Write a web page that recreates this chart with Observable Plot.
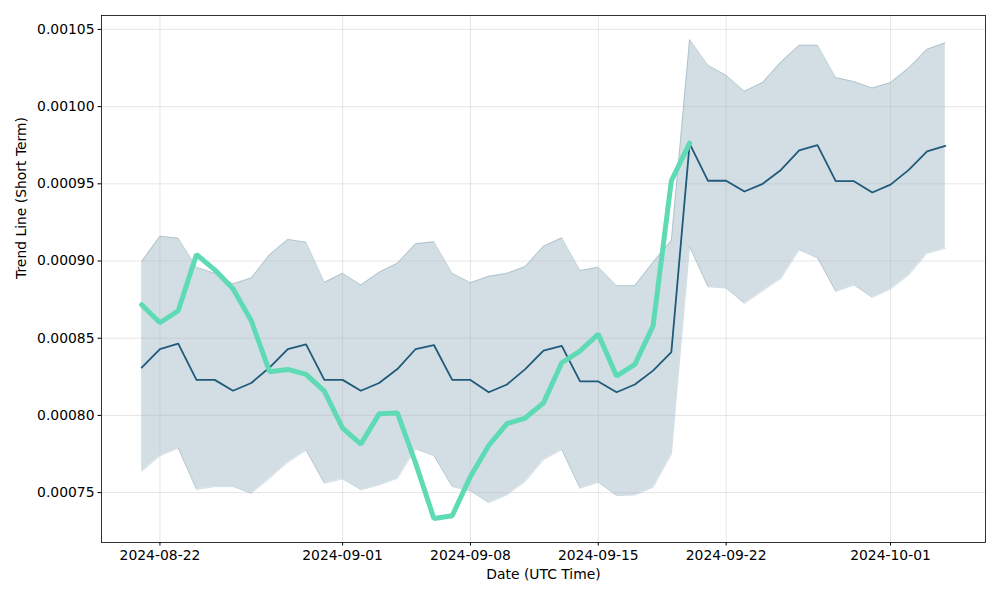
<!DOCTYPE html>
<html>
<head>
<meta charset="utf-8">
<script src="https://cdn.jsdelivr.net/npm/d3@7"></script>
<script src="https://cdn.jsdelivr.net/npm/@observablehq/plot@0.6"></script>
<style>
  html, body { margin: 0; padding: 0; background: #fff; }
  #chart { width: 1000px; height: 600px; }
  svg { font-family: "DejaVu Sans", sans-serif; }
</style>
</head>
<body>
<div id="chart"></div>
<script>
// Dates: daily from 2024-08-21 to 2024-10-04
const startDate = "2024-08-21";
const dayCount = 45;

// Trend line (mean forecast)
const trend = [
  0.000831, 0.000843, 0.0008465, 0.000823, 0.000823, 0.000816, 0.000821,
  0.000831, 0.000843, 0.000846, 0.000823, 0.000823, 0.000816, 0.000821,
  0.000830, 0.000843, 0.0008456, 0.000823, 0.000823, 0.000815, 0.000820,
  0.000830, 0.000842, 0.000845, 0.000822, 0.000822, 0.000815, 0.000820,
  0.000829, 0.000841, 0.000976, 0.000952, 0.000952, 0.000945, 0.000950,
  0.000959, 0.0009716, 0.000975, 0.0009517, 0.0009517, 0.0009444, 0.0009495,
  0.000959, 0.000971, 0.0009745
];

// Upper bound of the band
const upper = [
  0.0008997, 0.000916, 0.0009148, 0.000896, 0.000892, 0.0008852, 0.000889,
  0.000904, 0.000914, 0.0009122, 0.0008862, 0.000892, 0.0008845, 0.0008927,
  0.0008986, 0.0009112, 0.0009125, 0.000892, 0.000886, 0.0008901, 0.000892,
  0.0008964, 0.0009096, 0.000915, 0.0008938, 0.000896, 0.000884, 0.000884,
  0.0008992, 0.0009133, 0.0010435, 0.0010268, 0.0010203, 0.001010, 0.0010156,
  0.0010289, 0.0010398, 0.0010398, 0.0010188, 0.0010162, 0.001012, 0.0010156,
  0.001025, 0.0010372, 0.0010413
];

// Lower bound of the band
const lower = [
  0.0007637, 0.0007739, 0.0007788, 0.0007521, 0.0007539, 0.0007539, 0.0007495,
  0.0007593, 0.0007697, 0.0007775, 0.0007561, 0.0007589, 0.0007518, 0.000755,
  0.0007593, 0.0007782, 0.0007739, 0.0007539, 0.0007511, 0.0007435, 0.0007485,
  0.0007572, 0.0007713, 0.0007778, 0.0007528, 0.0007567, 0.000748, 0.0007485,
  0.0007535, 0.0007749, 0.0009093, 0.0008833, 0.0008825, 0.0008725, 0.0008807,
  0.0008887, 0.0009072, 0.000902, 0.0008803, 0.0008845, 0.0008764, 0.0008819,
  0.0008909, 0.000905, 0.0009082
];

// Actual values (first 31 days)
const actual = [
  0.0008717, 0.000860, 0.0008678, 0.0009042, 0.0008943, 0.000882, 0.0008613,
  0.0008283, 0.0008298, 0.0008266, 0.0008157, 0.0007918, 0.0007814, 0.000801,
  0.0008016, 0.000769, 0.0007332, 0.000735, 0.0007604, 0.0007805, 0.0007947,
  0.0007983, 0.0008081, 0.0008341, 0.0008417, 0.0008526, 0.0008255, 0.0008331,
  0.000858, 0.000952, 0.0009763
];

const xTickLabels = ["2024-08-22", "2024-09-01", "2024-09-08", "2024-09-15", "2024-09-22", "2024-10-01"];
const yTickValues = [0.00075, 0.00080, 0.00085, 0.00090, 0.00095, 0.00100, 0.00105];

const t0 = new Date(startDate + "T00:00:00Z");
const dates = d3.range(dayCount).map(i => d3.utcDay.offset(t0, i));
const band = dates.map((d, i) => ({date: d, lo: lower[i], hi: upper[i], trend: trend[i]}));
const act = actual.map((v, i) => ({date: dates[i], value: v}));
const xTicks = xTickLabels.map(s => new Date(s + "T00:00:00Z"));

// matplotlib-like 5% margins
const span = dates[dates.length - 1] - dates[0];
const xDomain = [new Date(+dates[0] - span * 0.05), new Date(+dates[dates.length - 1] + span * 0.05)];
const allY = [...upper, ...lower, ...actual, ...trend];
const yMin = d3.min(allY), yMax = d3.max(allY);
const yDomain = [yMin - (yMax - yMin) * 0.05, yMax + (yMax - yMin) * 0.05];

const chart = Plot.plot({
  width: 1000,
  height: 600,
  marginLeft: 101,
  marginRight: 15,
  marginTop: 15,
  marginBottom: 58,
  style: {fontFamily: "DejaVu Sans, sans-serif", fontSize: "13.9px", color: "#000", background: "#fff"},
  x: {type: "utc", domain: xDomain, label: null},
  y: {domain: yDomain, label: null},
  marks: [
    Plot.areaY(band, {x: "date", y1: "lo", y2: "hi", fill: "#1f5a7a", fillOpacity: 0.2, curve: "linear"}),
    Plot.line(band, {x: "date", y: "hi", stroke: "#1f5a7a", strokeOpacity: 0.2, strokeWidth: 1}),
    Plot.line(band, {x: "date", y: "lo", stroke: "#1f5a7a", strokeOpacity: 0.2, strokeWidth: 1}),
    Plot.gridX(xTicks, {stroke: "#b0b0b0", strokeOpacity: 0.4, strokeWidth: 0.8}),
    Plot.gridY(yTickValues, {stroke: "#b0b0b0", strokeOpacity: 0.4, strokeWidth: 0.8}),
    Plot.line(band, {x: "date", y: "trend", stroke: "#1f5a7a", strokeWidth: 1.8}),
    Plot.line(act, {x: "date", y: "value", stroke: "#5edbb4", strokeWidth: 5, strokeLinejoin: "miter"}),
    Plot.axisX({ticks: xTicks, tickFormat: d3.utcFormat("%Y-%m-%d"), tickSize: 3.5, tickPadding: 4, stroke: "#000", fill: "#000", label: null}),
    Plot.axisY({ticks: yTickValues, tickFormat: d3.format(".5f"), tickSize: 3.5, tickPadding: 3.5, stroke: "#000", fill: "#000", label: null}),
    Plot.frame({stroke: "#000", strokeWidth: 0.8}),
    Plot.text(["Date (UTC Time)"], {frameAnchor: "bottom", dy: 36, fill: "#000", fontSize: 13.9}),
    Plot.text(["Trend Line (Short Term)"], {frameAnchor: "left", dx: -80, rotate: -90, fill: "#000", fontSize: 13.9})
  ]
});

document.getElementById("chart").appendChild(chart);
</script>
</body>
</html>
